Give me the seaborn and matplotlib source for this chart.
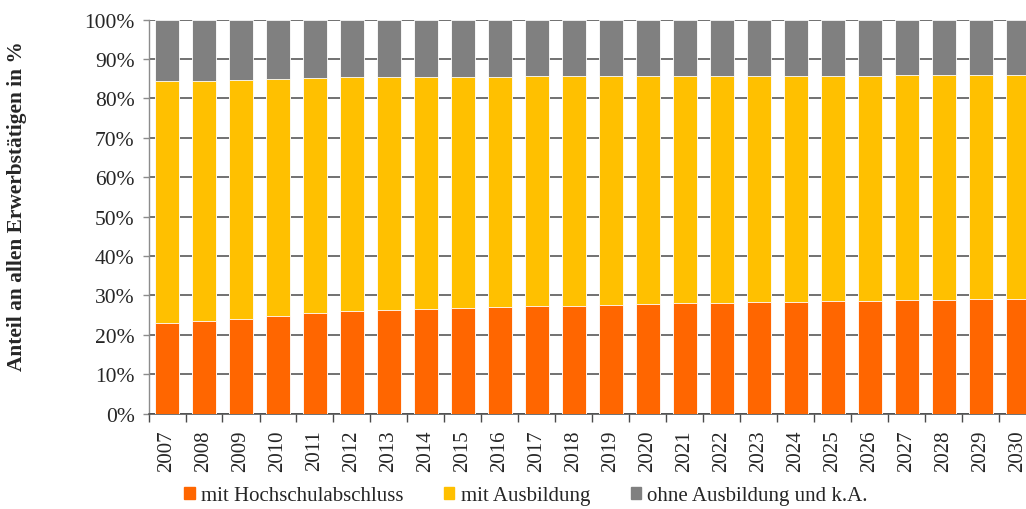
import matplotlib
matplotlib.use("Agg")
import matplotlib.pyplot as plt
import seaborn as sns
import pandas as pd
import numpy as np
from matplotlib.ticker import FixedLocator, PercentFormatter

years = [str(y) for y in range(2007, 2031)]
hochschule = [22.9, 23.4, 24.0, 24.7, 25.6, 26.0, 26.4, 26.6, 26.9, 27.0, 27.2, 27.4,
              27.6, 27.8, 28.0, 28.1, 28.3, 28.4, 28.5, 28.6, 28.8, 28.9, 29.0, 29.0]
ausbildung = [61.4, 61.0, 60.6, 60.2, 59.6, 59.3, 59.1, 58.9, 58.6, 58.5, 58.4, 58.2,
              58.0, 57.8, 57.6, 57.5, 57.4, 57.3, 57.2, 57.1, 57.0, 56.9, 56.8, 56.8]
ohne = [round(100 - h - a, 1) for h, a in zip(hochschule, ausbildung)]

labels = ["mit Hochschulabschluss", "mit Ausbildung", "ohne Ausbildung und k.A."]
colors = ["#FF6600", "#FFC000", "#808080"]

df = pd.DataFrame({"Jahr": years, "h": hochschule, "a": ausbildung, "o": ohne})
df["top_a"] = df["h"] + df["a"]
df["top_o"] = df["top_a"] + df["o"]

sns.set_style("white")
plt.rcParams["font.family"] = ["Liberation Serif", "DejaVu Serif"]

fig = plt.figure(figsize=(10.26, 5.10), dpi=100)
ax = fig.add_axes([148.5 / 1026, 1 - 414.7 / 510, 888 / 1026, (414.7 - 20.5) / 510])

# stacked bars: draw cumulative totals back to front
bar_kw = dict(width=0.66, edgecolor="white", linewidth=0.6, zorder=3)
sns.barplot(data=df, x="Jahr", y="top_o", color=colors[2], ax=ax, saturation=1, **bar_kw)
sns.barplot(data=df, x="Jahr", y="top_a", color=colors[1], ax=ax, saturation=1, **bar_kw)
sns.barplot(data=df, x="Jahr", y="h", color=colors[0], ax=ax, saturation=1, **bar_kw)

ax.set_ylim(0, 100)
ax.set_xlim(-0.5, len(years) - 0.5)
ax.yaxis.set_major_locator(FixedLocator(np.arange(0, 101, 10)))
ax.yaxis.set_major_formatter(PercentFormatter(decimals=0))
ax.grid(axis="y", color="#4a4a4a", linewidth=1.1, zorder=0)
ax.set_axisbelow(True)

for s in ["top", "right"]:
    ax.spines[s].set_visible(False)
ax.spines["left"].set_color("#8c8c8c")
ax.spines["bottom"].set_color("#4a4a4a")
ax.spines["left"].set_linewidth(1.0)
ax.spines["bottom"].set_linewidth(1.1)

ax.tick_params(axis="y", left=True, length=4, width=1, color="#8c8c8c",
               labelsize=15.5, pad=6)
ax.set_xticks(range(len(years)))
ax.set_xticklabels(years, rotation=90, fontsize=15)
ax.tick_params(axis="x", bottom=False, pad=8)
ax.set_xticks(np.arange(-0.5, len(years), 1), minor=True)
ax.tick_params(axis="x", which="minor", bottom=True, length=6, width=1, color="#4a4a4a")
ax.set_xlabel("")
ax.set_ylabel("")

fig.text(17 / 1026, 1 - 206 / 510, "Anteil an allen Erwerbstätigen in %",
         rotation=90, ha="center", va="center", fontsize=15.4, fontweight="bold")

handles = [plt.Rectangle((0, 0), 1, 1, color=c) for c in colors]
fig.legend(handles, labels, loc="center", bbox_to_anchor=(526 / 1026, 1 - 497 / 510),
           ncol=3, frameon=False, fontsize=15, handlelength=0.5, handleheight=0.5,
           handletextpad=0.3, columnspacing=1.95)

fig.savefig("out.png", dpi=100)
